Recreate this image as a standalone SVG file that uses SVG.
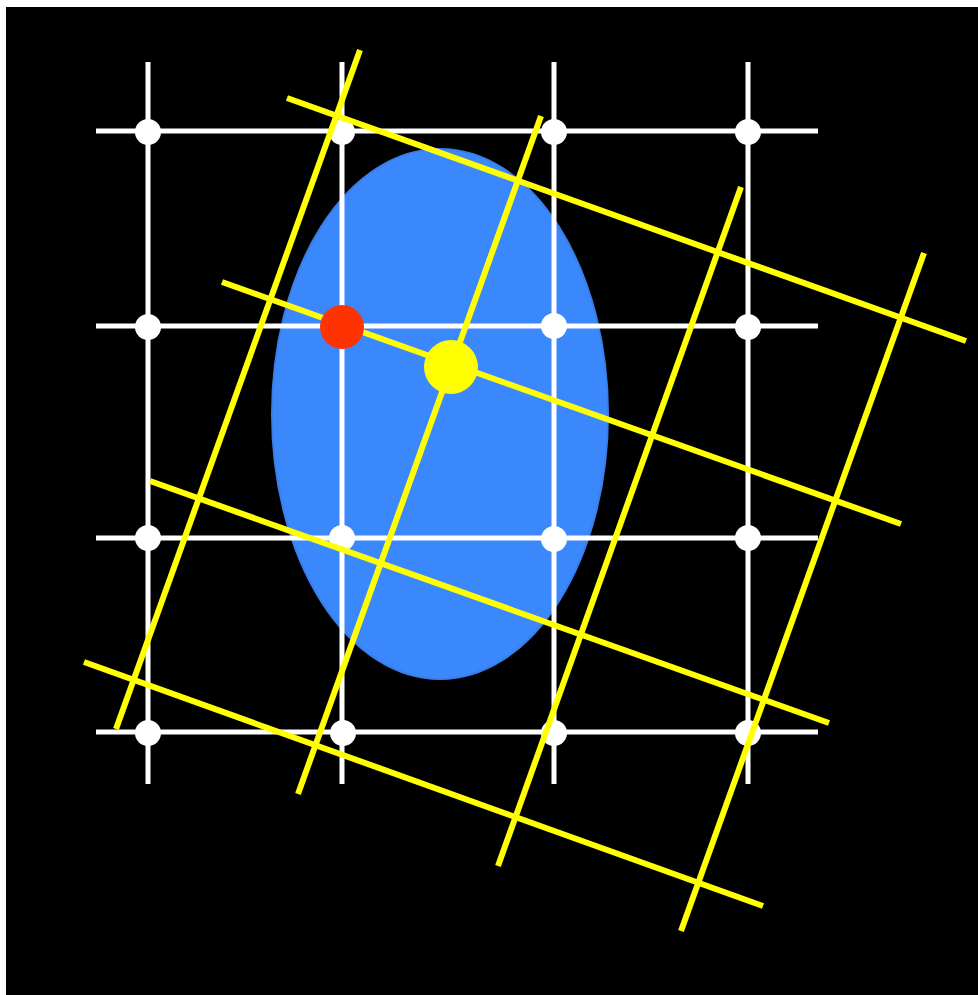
<svg xmlns="http://www.w3.org/2000/svg" width="978" height="995" viewBox="0 0 978 995">
<style>
.grid line{stroke:#ffffff;stroke-width:5}
.rot line{stroke:#ffff00;stroke-width:6}
.wdot{fill:#ffffff}
</style>
<rect x="0" y="0" width="978" height="995" fill="#ffffff"/>
<rect x="6" y="7" width="972" height="988" fill="#000000"/>
<g id="ellipse"><ellipse cx="440" cy="414" rx="168" ry="265" fill="#3b88fd" stroke="#3a7ee8" stroke-width="2"/></g>
<g id="grid" class="grid">
<line x1="148" y1="62" x2="148" y2="784"/>
<line x1="342" y1="62" x2="342" y2="784"/>
<line x1="554" y1="62" x2="554" y2="784"/>
<line x1="748" y1="62" x2="748" y2="784"/>
<line x1="96" y1="131" x2="818" y2="131"/>
<line x1="96" y1="326" x2="818" y2="326"/>
<line x1="96" y1="538" x2="818" y2="538"/>
<line x1="96" y1="732" x2="818" y2="732"/>
</g>
<g id="dots">
<circle class="wdot" cx="148" cy="132" r="13"/>
<circle class="wdot" cx="342" cy="132" r="13"/>
<circle class="wdot" cx="554" cy="132" r="13"/>
<circle class="wdot" cx="748" cy="132" r="13"/>
<circle class="wdot" cx="148" cy="327" r="13"/>
<circle class="wdot" cx="554" cy="326" r="13"/>
<circle class="wdot" cx="748" cy="327" r="13"/>
<circle class="wdot" cx="148" cy="538" r="13"/>
<circle class="wdot" cx="342" cy="538" r="13"/>
<circle class="wdot" cx="554" cy="539" r="13"/>
<circle class="wdot" cx="748" cy="538" r="13"/>
<circle class="wdot" cx="148" cy="733" r="13"/>
<circle class="wdot" cx="343" cy="733" r="13"/>
<circle class="wdot" cx="554" cy="733" r="13"/>
<circle class="wdot" cx="748" cy="733" r="13"/>
</g>
<g id="connectors" class="rot">
<line x1="116" y1="729" x2="360" y2="50"/>
<line x1="298" y1="794" x2="541" y2="116"/>
<line x1="498" y1="866" x2="741" y2="187"/>
<line x1="681" y1="931" x2="924" y2="253"/>
<line x1="287" y1="98" x2="966" y2="341"/>
<line x1="222" y1="282" x2="901" y2="524"/>
<line x1="150" y1="481" x2="829" y2="723"/>
<line x1="84" y1="662" x2="763" y2="906"/>
</g>
<g id="red-point"><circle cx="342" cy="327" r="22" fill="#ff3300"/></g>
<g id="yellow-point"><circle cx="451" cy="367" r="27" fill="#ffff00"/></g>
</svg>
